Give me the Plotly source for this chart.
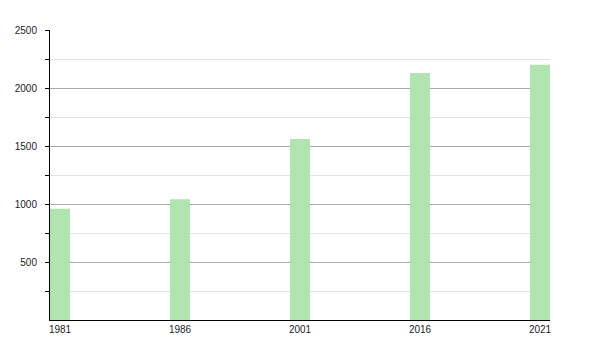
import plotly.graph_objects as go

years = ["1981", "1986", "2001", "2016", "2021"]
population = [960, 1040, 1560, 2130, 2200]

fig = go.Figure()
fig.add_trace(go.Bar(
    x=years, y=population, width=1/6,
    marker=dict(color="#b1e4b1", line=dict(width=0)),
))

fig.update_layout(
    width=600, height=350,
    margin=dict(l=50, r=50, t=30, b=30),
    paper_bgcolor="white", plot_bgcolor="white",
    showlegend=False,
    font=dict(family="Liberation Sans, Arial, sans-serif", size=10, color="#222"),
)
fig.update_xaxes(
    type="category", range=[-1/12, 4 + 1/12],
    showline=True, linecolor="black", linewidth=1,
    ticks="", showgrid=False, tickfont=dict(size=10),
)
fig.update_yaxes(
    range=[0, 2500], tickvals=[500, 1000, 1500, 2000, 2500],
    showline=True, linecolor="black", linewidth=1,
    ticks="outside", ticklen=4, tickcolor="black",
    ticklabelstandoff=6,
    showgrid=True, gridcolor="#aaaaaa", gridwidth=1,
    zeroline=False,
    minor=dict(tickvals=[250, 750, 1250, 1750, 2250], ticks="outside", ticklen=4,
               tickcolor="black", showgrid=True, gridcolor="#e3e3e3"),
    tickfont=dict(size=10),
)

fig.write_html("out.html")
